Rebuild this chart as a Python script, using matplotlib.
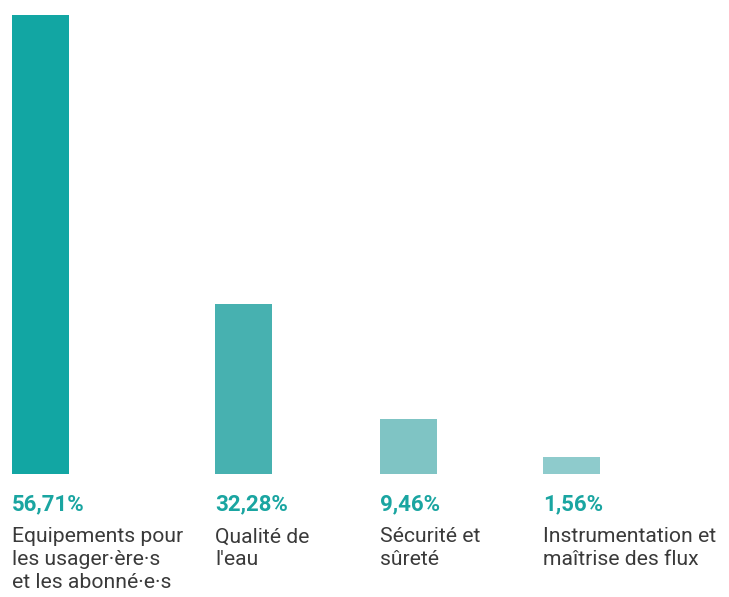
import matplotlib.pyplot as plt

# Données
categories = ["Equipements pour\nles usager·ère·s\net les abonné·e·s",
              "Qualité de\nl'eau",
              "Sécurité et\nsûreté",
              "Instrumentation et\nmaîtrise des flux"]
pourcentages = ["56,71%", "32,28%", "9,46%", "1,56%"]
hauteurs = [56.71, 21.0, 6.8, 2.1]  # hauteurs
couleurs = ["#12a6a3", "#47b1b0", "#7fc4c4", "#8ecbcc"]

# Mise en page (pixels)
positions = [40.5, 243.5, 408.5, 571.5]
largeur = 57

plt.rcParams['font.family'] = ['Roboto', 'DejaVu Sans']

fig = plt.figure(figsize=(7.29, 5.97), dpi=100)
ax = fig.add_axes([0, 123 / 597, 1, 459 / 597])
ax.bar(positions, hauteurs, width=largeur, color=couleurs)
ax.set_xlim(0, 729)
ax.set_ylim(0, hauteurs[0])
ax.axis("off")

for x, pct, cat in zip(positions, pourcentages, categories):
    gauche = x - largeur / 2
    ax.annotate(pct, (gauche, 0), xytext=(0, -26), textcoords="offset points",
                ha="left", va="baseline", fontsize=16, fontweight="bold",
                color="#1aa5a1", annotation_clip=False)
    ax.annotate(cat, (gauche, 0), xytext=(0, -38.5), textcoords="offset points",
                ha="left", va="top", fontsize=15.2, color="#3a3a3a",
                linespacing=1.25, annotation_clip=False)

plt.savefig("out.png", dpi=100)
